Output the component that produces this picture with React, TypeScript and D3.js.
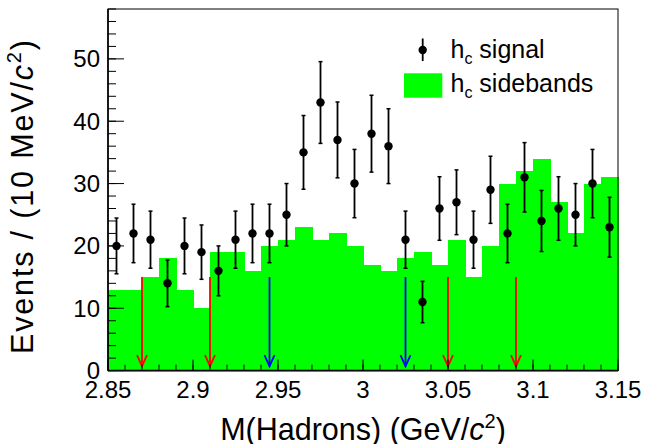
import React from "react";
import * as d3 from "d3";

// bin centres, 10 MeV bins
const massBins = [
  2.855, 2.865, 2.875, 2.885, 2.895, 2.905, 2.915, 2.925, 2.935, 2.945,
  2.955, 2.965, 2.975, 2.985, 2.995, 3.005, 3.015, 3.025, 3.035, 3.045,
  3.055, 3.065, 3.075, 3.085, 3.095, 3.105, 3.115, 3.125, 3.135, 3.145,
];
const sidebands = [
  13, 13, 15, 18, 13, 10, 19, 19, 16, 20,
  21, 23, 21, 22, 20, 17, 16, 18, 19, 17,
  21, 15, 20, 30, 32, 34, 27, 22, 30, 31,
];
const signal = [
  20, 22, 21, 14, 20, 19, 16, 21, 22, 22,
  25, 35, 43, 37, 30, 38, 36, 21, 11, 26,
  27, 21, 29, 22, 31, 24, 26, 25, 30, 23,
];
const redArrows = [2.87, 2.91, 3.05, 3.09];
const blueArrows = [2.945, 3.025];
const arrowTop = 15;

const xTicks = [2.85, 2.9, 2.95, 3.0, 3.05, 3.1, 3.15];
const xTickLabels = ["2.85", "2.9", "2.95", "3", "3.05", "3.1", "3.15"];
const yTicks = [0, 10, 20, 30, 40, 50];

const W = 645;
const H = 444;
const margin = { top: 9, right: 27, bottom: 73.4, left: 108 };
const binWidth = 0.01;
const font = "'Liberation Sans', Arial, Helvetica, sans-serif";
const GREEN = "#00ff00";

export default function App() {
  const x = d3.scaleLinear().domain([2.85, 3.15]).range([margin.left, W - margin.right]);
  const y = d3.scaleLinear().domain([0, 58]).range([H - margin.bottom, margin.top]);
  const x0 = x.range()[0], x1 = x.range()[1];
  const y0 = y.range()[0], y1 = y.range()[1];

  const xMinor = d3.range(2.85, 3.1501, 0.01);
  const yMinor = d3.range(0, 58.01, 2);

  const arrow = (xv: number, color: string, key: string) => {
    const px = x(xv);
    const top = y(arrowTop);
    const tip = y(0.7);
    return (
      <g key={key} stroke={color} strokeWidth={1.8} fill="none">
        <line x1={px} x2={px} y1={top} y2={tip} />
        <polyline points={`${px - 5},${tip - 11} ${px},${tip} ${px + 5},${tip - 11}`} />
      </g>
    );
  };

  return (
    <div style={{ position: "absolute", left: 0, top: 0 }}>
      <svg width={W} height={H} style={{ display: "block", background: "#fff" }} fontFamily={font}>
        {/* sideband histogram */}
        <g fill={GREEN} shapeRendering="crispEdges">
          {massBins.map((m, i) => (
            <rect
              key={i}
              x={x(m - binWidth / 2)}
              width={x(m + binWidth / 2) - x(m - binWidth / 2) + 0.5}
              y={y(sidebands[i])}
              height={y0 - y(sidebands[i])}
            />
          ))}
        </g>

        {/* arrows */}
        {redArrows.map((v, i) => arrow(v, "#ff0000", "r" + i))}
        {blueArrows.map((v, i) => arrow(v, "#0000ff", "b" + i))}

        {/* signal points with sqrt(N) errors */}
        <g>
          {massBins.map((m, i) => {
            const v = signal[i];
            const e = Math.sqrt(v);
            const px = x(m);
            return (
              <g key={i}>
                <line x1={px} x2={px} y1={y(v + e)} y2={y(v - e)} stroke="#000" strokeWidth={1.8} />
                <line x1={px - 2} x2={px + 2} y1={y(v + e)} y2={y(v + e)} stroke="#000" strokeWidth={1.5} />
                <line x1={px - 2} x2={px + 2} y1={y(v - e)} y2={y(v - e)} stroke="#000" strokeWidth={1.5} />
                <circle cx={px} cy={y(v)} r={4.2} fill="#000" />
              </g>
            );
          })}
        </g>

        {/* frame */}
        <rect x={x0} y={y1} width={x1 - x0} height={y0 - y1} fill="none" stroke="#000" strokeWidth={1} />
        <line x1={x0} x2={x0} y1={y1} y2={y0} stroke="#000" strokeWidth={1.6} />
        <line x1={x0} x2={x1} y1={y0} y2={y0} stroke="#000" strokeWidth={1.6} />

        {/* x ticks */}
        <g stroke="#000" strokeWidth={1}>
          {xMinor.map((t, i) => (
            <line key={i} x1={x(t)} x2={x(t)} y1={y0} y2={y0 - 6} />
          ))}
          {xTicks.map((t, i) => (
            <line key={"M" + i} x1={x(t)} x2={x(t)} y1={y0} y2={y0 - 11} />
          ))}
        </g>
        <g fontSize={24} textAnchor="middle" fill="#000">
          {xTicks.map((t, i) => (
            <text key={i} x={x(t)} y={398}>{xTickLabels[i]}</text>
          ))}
        </g>

        {/* y ticks */}
        <g stroke="#000" strokeWidth={1}>
          {yMinor.map((t, i) => (
            <line key={i} x1={x0} x2={x0 + 8} y1={y(t)} y2={y(t)} />
          ))}
          {yTicks.map((t, i) => (
            <line key={"M" + i} x1={x0} x2={x0 + 16} y1={y(t)} y2={y(t)} />
          ))}
        </g>
        <g fontSize={24} textAnchor="end" fill="#000">
          {yTicks.map((t, i) => (
            <text key={i} x={100} y={y(t) + 8.5}>{t}</text>
          ))}
        </g>

        {/* axis titles */}
        <text x={(x0 + x1) / 2} y={440} fontSize={30.5} textAnchor="middle" fill="#000">
          M(Hadrons) (GeV/<tspan fontStyle="italic">c</tspan>
          <tspan fontSize={20} dy={-12}>2</tspan>
          <tspan dy={12}>)</tspan>
        </text>
        <text
          transform={`translate(32.5,197) rotate(-90)`}
          fontSize={30.5}
          textAnchor="middle"
          textLength={314}
          lengthAdjust="spacing"
          fill="#000"
        >
          Events / (10 MeV/<tspan fontStyle="italic">c</tspan>
          <tspan fontSize={20} dy={-12}>2</tspan>
          <tspan dy={12}>)</tspan>
        </text>

        {/* legend */}
        <g>
          <line x1={422.7} x2={422.7} y1={38.5} y2={61} stroke="#000" strokeWidth={1.8} />
          <circle cx={422.7} cy={50} r={4.2} fill="#000" />
          <rect x={404} y={73.3} width={38.3} height={24.4} fill={GREEN} />
          <text x={450.5} y={58.3} fontSize={25} fill="#000">
            h<tspan fontSize={16} dy={6}>c</tspan>
            <tspan dy={-6}> signal</tspan>
          </text>
          <text x={450.5} y={91.7} fontSize={25} fill="#000">
            h<tspan fontSize={16} dy={6}>c</tspan>
            <tspan dy={-6}> sidebands</tspan>
          </text>
        </g>
      </svg>
    </div>
  );
}
